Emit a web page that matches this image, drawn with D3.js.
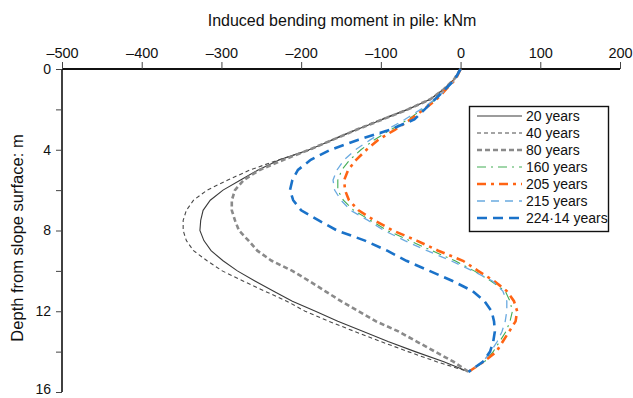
<!DOCTYPE html>
<html>
<head>
<meta charset="utf-8">
<script src="https://cdn.jsdelivr.net/npm/d3@7"></script>
<style>
  html, body { margin: 0; padding: 0; background: #fff; }
  svg text { font-family: "Liberation Sans", Arial, sans-serif; fill: #111; }
</style>
</head>
<body>
<svg id="chart" width="633" height="398"></svg>
<script>
// Depth below slope surface (m)
const depths = [0, 0.5, 1, 1.5, 2, 2.5, 3, 3.5, 4, 4.5, 5, 5.5, 6, 6.5, 7, 7.5,
                8, 8.5, 9, 9.5, 10, 10.5, 11, 11.5, 12, 12.5, 13, 13.5, 14, 14.5, 15];

// Induced bending moment (kNm) at each depth, by elapsed time
const m20  = [0, -8, -21, -38, -66, -98, -130, -160, -190, -227, -254, -276, -298, -314, -323, -326,
              -327, -322, -313, -298, -280, -258, -235, -211, -182, -154, -122, -91, -57, -21, 10];
const m40  = [0, -8, -21, -38, -67, -100, -131, -161, -188, -228, -264, -292, -318, -335, -344, -348,
              -348, -344, -335, -318, -299, -273, -246, -218, -195, -165, -133, -100, -66, -30, 10];
const m80  = [0, -8, -21, -38, -66, -98, -130, -160, -190, -222, -252, -272, -283, -287, -287, -283,
              -278, -266, -255, -237, -211, -190, -170, -150, -128, -106, -78, -55, -32, -9, 10];
const m160 = [0, -6, -18, -31, -48, -66, -87, -108, -125, -139, -149, -154, -154, -147, -134, -113,
              -92, -64, -36, -7, 17, 38, 56, 62, 65, 62, 57, 49, 41, 30, 10];
const m205 = [0, -6, -18, -30, -46, -63, -82, -103, -118, -131, -141, -146, -145, -140, -128, -108,
              -85, -55, -28, 3, 22, 42, 58, 67, 71, 69, 61, 53, 45, 29, 10];
const m215 = [0, -6, -18, -32, -50, -70, -92, -113, -132, -146, -155, -160, -158, -150, -138, -116,
              -96, -70, -42, -12, 15, 40, 53, 58, 58, 56, 52, 46, 38, 28, 10];
const m224 = [0, -7, -19, -32, -45, -58, -88, -128, -163, -188, -204, -211, -214, -210, -200, -178,
              -155, -120, -92, -68, -39, -10, 15, 30, 39, 42, 43, 41, 37, 28, 10];

const seriesNames = ["20 years", "40 years", "80 years", "160 years", "205 years", "215 years", "224·14 years"];
const seriesValues = [m20, m40, m80, m160, m205, m215, m224];

const xTicks = [-500, -400, -300, -200, -100, 0, 100, 200];
const yTicks = [0, 2, 4, 6, 8, 10, 12, 14, 16];
const yLabelled = [0, 4, 8, 12, 16];

// Line styles per series
const styles = [
  { color: "#3a3a3a", width: 1.1, dash: null },
  { color: "#4a4a4a", width: 1.1, dash: "4,3" },
  { color: "#8a8a8a", width: 2.6, dash: "5,3" },
  { color: "#43ad55", width: 1.1, dash: "9,5,2,5" },
  { color: "#ff6414", width: 2.6, dash: "9,5,3,5" },
  { color: "#6aaae0", width: 1.3, dash: "8,6" },
  { color: "#1a72c9", width: 2.6, dash: "10,6" }
];

const svg = d3.select("#chart");
const x = d3.scaleLinear().domain([-500, 200]).range([62, 620]);
const y = d3.scaleLinear().domain([0, 16]).range([69, 392]);

const fmt = d => d < 0 ? "\u2013" + Math.abs(d) : String(d);

// Top (moment) axis
const gx = svg.append("g").attr("transform", `translate(0,${y(0)})`)
  .call(d3.axisTop(x).tickValues(xTicks).tickSize(7).tickPadding(4).tickFormat(fmt));
gx.select(".domain").attr("stroke", "#111").attr("stroke-width", 2).attr("d", `M${x(-500)},0H${x(200)}`);
gx.selectAll(".tick line").attr("stroke", "#444").attr("stroke-width", 1);
gx.selectAll(".tick text").attr("font-size", 14.5).attr("fill", "#111");

// Left (depth) axis
const gy = svg.append("g").attr("transform", `translate(${x(-500)},0)`)
  .call(d3.axisLeft(y).tickValues(yTicks).tickSize(6).tickPadding(5)
    .tickFormat(d => yLabelled.includes(d) ? d : ""));
gy.select(".domain").attr("stroke", "#111").attr("stroke-width", 1.6).attr("d", `M0,${y(0)}V${y(16)}`);
gy.selectAll(".tick line").attr("stroke", "#444").attr("stroke-width", 1);
gy.selectAll(".tick text").attr("font-size", 14).attr("fill", "#111");
// keep the deepest label inside the frame
gy.selectAll(".tick text").filter(d => d === 16).attr("dy", "0.1em");

// Axis titles
svg.append("text").attr("x", 342).attr("y", 26).attr("text-anchor", "middle")
  .attr("font-size", 16).text("Induced bending moment in pile: kNm");
svg.append("text").attr("transform", `translate(23,238) rotate(-90)`)
  .attr("text-anchor", "middle").attr("font-size", 16.5).text("Depth from slope surface: m");

// Moment profiles
const line = d3.line().x(d => x(d[0])).y(d => y(d[1]));
seriesValues.forEach((vals, i) => {
  const pts = vals.map((v, k) => [v, depths[k]]);
  svg.append("path").datum(pts)
    .attr("d", line)
    .attr("fill", "none")
    .attr("stroke", styles[i].color)
    .attr("stroke-width", styles[i].width)
    .attr("stroke-dasharray", styles[i].dash);
});

// Legend
const lg = svg.append("g");
lg.append("rect").attr("x", 469.5).attr("y", 106.5).attr("width", 139).attr("height", 125)
  .attr("fill", "#fff").attr("stroke", "#111").attr("stroke-width", 1.4);
seriesNames.forEach((name, i) => {
  const yy = 116 + i * 17;
  lg.append("line").attr("x1", 477).attr("x2", 522).attr("y1", yy).attr("y2", yy)
    .attr("stroke", styles[i].color).attr("stroke-width", styles[i].width)
    .attr("stroke-dasharray", styles[i].dash);
  lg.append("text").attr("x", 526).attr("y", yy + 5).attr("font-size", 14).text(name);
});
</script>
</body>
</html>
